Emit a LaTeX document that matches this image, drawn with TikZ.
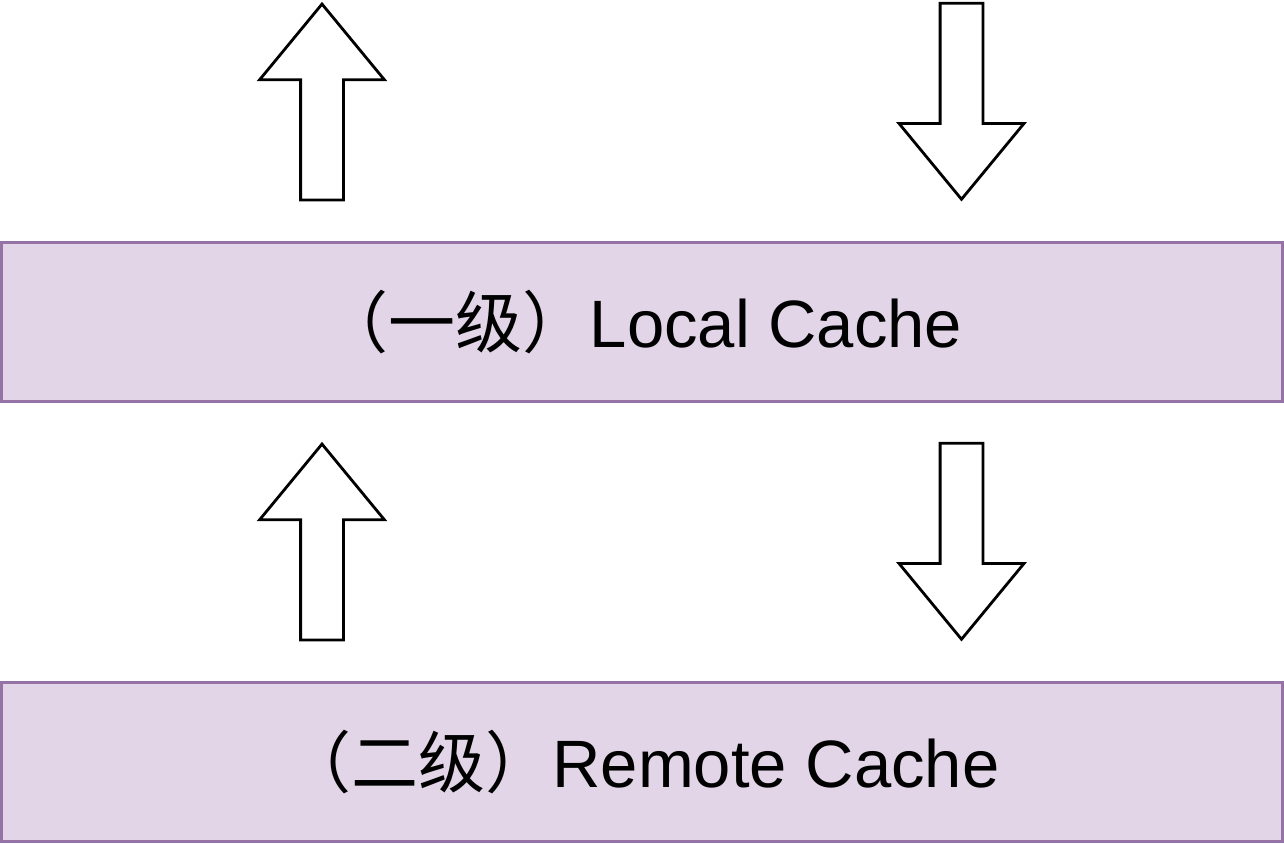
\documentclass[tikz,border=0pt]{standalone}
\usepackage{fontspec}
\setmainfont{Liberation Sans}
\newfontfamily\cjk{Noto Sans CJK SC}
\usepackage{xcolor}
\usepackage{tikz}
\usetikzlibrary{positioning, shapes.arrows}

\definecolor{cachefill}{HTML}{E1D5E7}
\definecolor{cacheline}{HTML}{9673A6}

\tikzset{
  cache/.style={draw=cacheline, fill=cachefill, line width=1.5pt,
    minimum width=640.5pt, minimum height=79.5pt, inner sep=0pt,
    font=\fontsize{33.5}{40}\selectfont},
  blockarrow/.style={single arrow, draw=black, fill=white, line width=1.4pt,
    minimum height=98pt, inner sep=10pt,
    single arrow head extend=20.5pt, single arrow tip angle=79},
  uparrow/.style={blockarrow, shape border rotate=90},
  downarrow/.style={blockarrow, shape border rotate=270}
}

\begin{document}
\begin{tikzpicture}
   \useasboundingbox (0,0) rectangle (642pt,422pt);
   \node[cache] (remote) at (321pt,41pt) {{\cjk （二级）}Remote Cache};
   \node[cache] (local) at (321pt,261pt) {{\cjk （一级）}Local Cache};

   % between the two caches
   \node[uparrow, above=19.75pt of remote, xshift=-160pt] (fetch) {};
   \node[downarrow, above=19.75pt of remote, xshift=159.75pt] (store) {};

   % above the local cache
   \node[uparrow, above=19.75pt of local, xshift=-160pt] (read) {};
   \node[downarrow, above=19.75pt of local, xshift=159.75pt] (write) {};
\end{tikzpicture}
\end{document}
